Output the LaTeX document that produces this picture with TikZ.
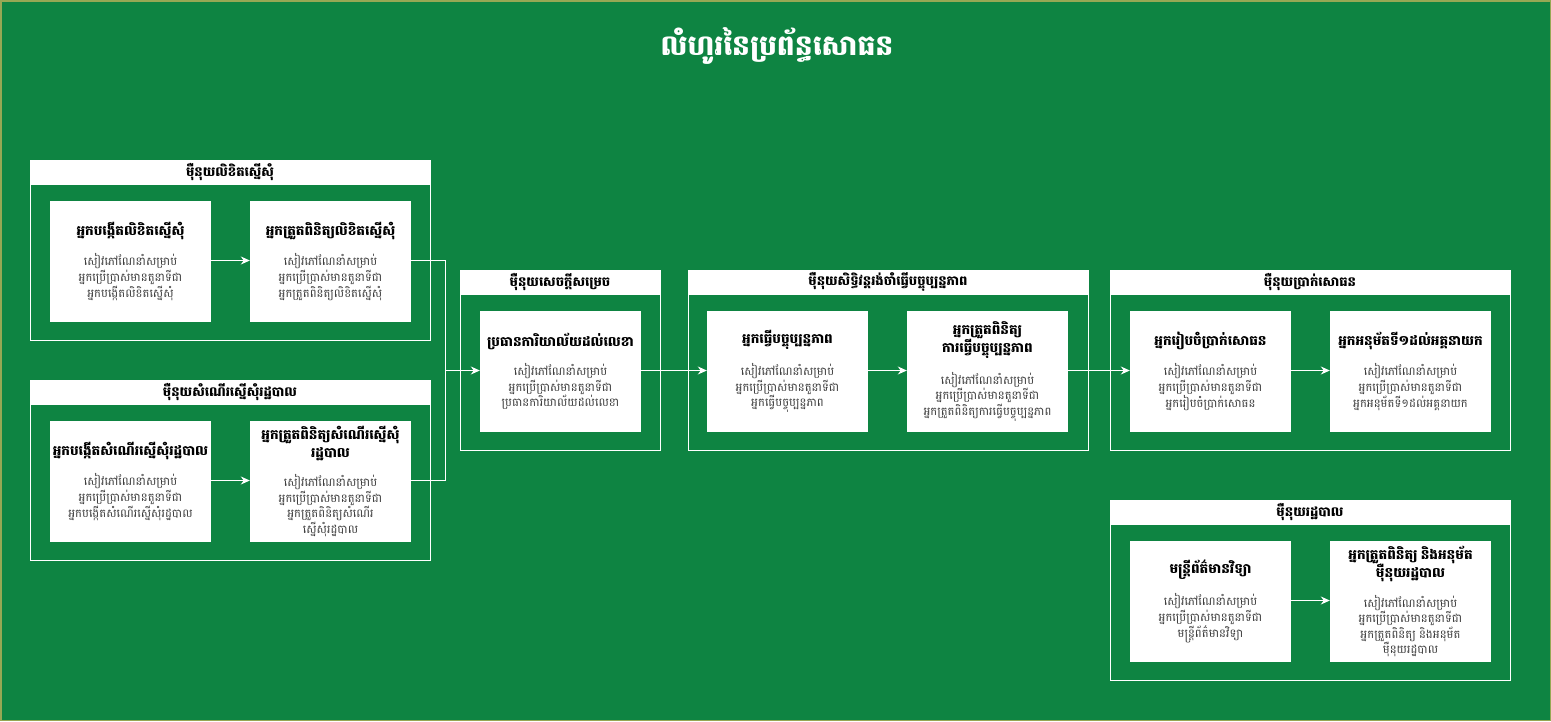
\documentclass[tikz,border=0pt]{standalone}
\usepackage{fontspec}
\newfontfamily\khmer[Script=Khmer]{Battambang}
\usetikzlibrary{arrows.meta,positioning}
\definecolor{bggreen}{RGB}{14,132,66}
\definecolor{bgedge}{RGB}{150,168,84}
\definecolor{bodygray}{RGB}{60,60,60}
\newcommand\bxc[2]{{\bfseries\fontsize{13.6}{18}\selectfont #1\par}\vspace{12.5pt}{\fontsize{11.6}{14}\selectfont\color{bodygray}#2\par}}
\tikzset{
  stepbox/.style={fill=white, draw=none, minimum width=161pt, minimum height=121pt, inner sep=0pt, align=center, text width=159pt, font=\khmer},
  grp/.style={draw=white, line width=1pt, minimum width=400pt, minimum height=180pt, inner sep=0pt},
  grpnarrow/.style={grp, minimum width=200pt},
  hdr/.style={fill=white, draw=white, line width=1pt, minimum height=24pt, inner sep=0pt, anchor=north, font=\khmer\bfseries\fontsize{13.2}{14}\selectfont},
  conn/.style={draw=white, line width=1pt},
  arr/.style={conn, -{Stealth[length=9pt,width=8pt]}}
}
\begin{document}
\begin{tikzpicture}[x=1pt,y=-1pt]
\useasboundingbox (0,0) rectangle (1551,721);
\fill[bggreen] (0,0) rectangle (1551,721);
\draw[bgedge, line width=1.5pt] (0.75,0.75) rectangle (1550.25,720.25);
\node[font=\khmer\bfseries\fontsize{28.2}{32}\selectfont, text=white] (title) at (777,46) {លំហូរនៃប្រព័ន្ធសោធន};

% groups
\node[grp] (g1) at (230,250) {};
\node[hdr, minimum width=400pt] (g1h) at (g1.north) {ម៉ឺនុយលិខិតស្នើសុំ};
\node[grp] (g2) at (230,470) {};
\node[hdr, minimum width=400pt] (g2h) at (g2.north) {ម៉ឺនុយសំណើរស្នើសុំរដ្ឋបាល};
\node[grpnarrow] (g3) at (560,360) {};
\node[hdr, minimum width=200pt] (g3h) at (g3.north) {ម៉ឺនុយសេចក្តីសម្រេច};
\node[grp] (g4) at (888,360) {};
\node[hdr, minimum width=400pt] (g4h) at (g4.north) {ម៉ឺនុយសិទ្ធិវន្តរង់ចាំធ្វើបច្ចុប្បន្នភាព};
\node[grp] (g5) at (1310,360) {};
\node[hdr, minimum width=400pt] (g5h) at (g5.north) {ម៉ឺនុយប្រាក់សោធន};
\node[grp] (g6) at (1310,590) {};
\node[hdr, minimum width=400pt] (g6h) at (g6.north) {ម៉ឺនុយរដ្ឋបាល};

% step boxes
\node[stepbox] (a1) at (130.5,261.5) {\bxc{អ្នកបង្កើតលិខិតស្នើសុំ}{សៀវភៅណែនាំសម្រាប់\\អ្នកប្រើប្រាស់មានតួនាទីជា\\អ្នកបង្កើតលិខិតស្នើសុំ}};
\node[stepbox] (a2) at (330.5,261.5) {\bxc{អ្នកត្រួតពិនិត្យលិខិតស្នើសុំ}{សៀវភៅណែនាំសម្រាប់\\អ្នកប្រើប្រាស់មានតួនាទីជា\\អ្នកត្រួតពិនិត្យលិខិតស្នើសុំ}};
\node[stepbox] (b1) at (130.5,481.5) {\bxc{អ្នកបង្កើតសំណើរស្នើសុំរដ្ឋបាល}{សៀវភៅណែនាំសម្រាប់\\អ្នកប្រើប្រាស់មានតួនាទីជា\\អ្នកបង្កើតសំណើរស្នើសុំរដ្ឋបាល}};
\node[stepbox] (b2) at (330.5,481.5) {\bxc{អ្នកត្រួតពិនិត្យសំណើរស្នើសុំ\\រដ្ឋបាល}{សៀវភៅណែនាំសម្រាប់\\អ្នកប្រើប្រាស់មានតួនាទីជា\\អ្នកត្រួតពិនិត្យសំណើរ\\ស្នើសុំរដ្ឋបាល}};
\node[stepbox] (c) at (560.5,371.5) {\bxc{ប្រធានការិយាល័យដល់លេខា}{សៀវភៅណែនាំសម្រាប់\\អ្នកប្រើប្រាស់មានតួនាទីជា\\ប្រធានការិយាល័យដល់លេខា}};
\node[stepbox] (d1) at (787.5,371.5) {\bxc{អ្នកធ្វើបច្ចុប្បន្នភាព}{សៀវភៅណែនាំសម្រាប់\\អ្នកប្រើប្រាស់មានតួនាទីជា\\អ្នកធ្វើបច្ចុប្បន្នភាព}};
\node[stepbox] (d2) at (987.5,371.5) {\bxc{អ្នកត្រួតពិនិត្យ\\ការធ្វើបច្ចុប្បន្នភាព}{សៀវភៅណែនាំសម្រាប់\\អ្នកប្រើប្រាស់មានតួនាទីជា\\អ្នកត្រួតពិនិត្យការធ្វើបច្ចុប្បន្នភាព}};
\node[stepbox] (e1) at (1210.5,371.5) {\bxc{អ្នករៀបចំប្រាក់សោធន}{សៀវភៅណែនាំសម្រាប់\\អ្នកប្រើប្រាស់មានតួនាទីជា\\អ្នករៀបចំប្រាក់សោធន}};
\node[stepbox] (e2) at (1410.5,371.5) {\bxc{អ្នកអនុម័តទី១ដល់អគ្គនាយក}{សៀវភៅណែនាំសម្រាប់\\អ្នកប្រើប្រាស់មានតួនាទីជា\\អ្នកអនុម័តទី១ដល់អគ្គនាយក}};
\node[stepbox] (f1) at (1210.5,601.5) {\bxc{មន្ត្រីព័ត៌មានវិទ្យា}{សៀវភៅណែនាំសម្រាប់\\អ្នកប្រើប្រាស់មានតួនាទីជា\\មន្ត្រីព័ត៌មានវិទ្យា}};
\node[stepbox] (f2) at (1410.5,601.5) {\bxc{អ្នកត្រួតពិនិត្យ និងអនុម័ត\\ម៉ឺនុយរដ្ឋបាល}{សៀវភៅណែនាំសម្រាប់\\អ្នកប្រើប្រាស់មានតួនាទីជា\\អ្នកត្រួតពិនិត្យ និងអនុម័ត\\ម៉ឺនុយរដ្ឋបាល}};

% connectors
\coordinate (j) at (445,370.5);
\draw[arr] ([yshift=1pt]a1.east) -- ([yshift=1pt]a2.west);
\draw[arr] ([yshift=1pt]b1.east) -- ([yshift=1pt]b2.west);
\draw[conn] ([yshift=1pt]a2.east) -| (j);
\draw[conn] ([yshift=1pt]b2.east) -| (j);
\draw[arr] (j) -- (j -| c.west);
\draw[arr] ([yshift=1pt]c.east) -- ([yshift=1pt]d1.west);
\draw[arr] ([yshift=1pt]d1.east) -- ([yshift=1pt]d2.west);
\draw[arr] ([yshift=1pt]d2.east) -- ([yshift=1pt]e1.west);
\draw[arr] ([yshift=1pt]e1.east) -- ([yshift=1pt]e2.west);
\draw[arr] ([yshift=1pt]f1.east) -- ([yshift=1pt]f2.west);
\end{tikzpicture}
\end{document}
